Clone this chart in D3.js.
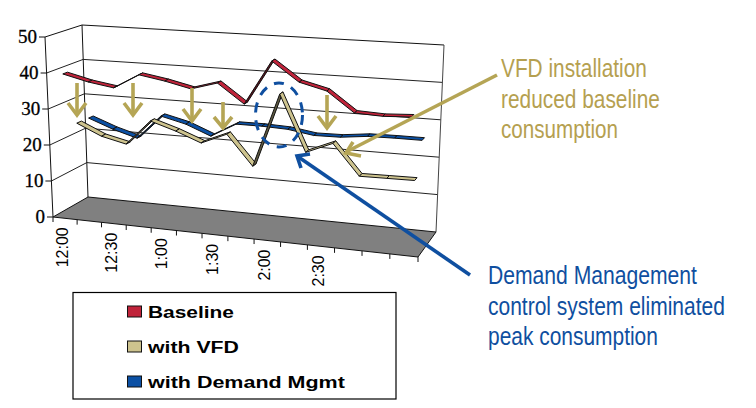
<!DOCTYPE html>
<html><head><meta charset="utf-8">
<script src="https://cdn.jsdelivr.net/npm/d3@7"></script>
<style>html,body{margin:0;padding:0;background:#fff}svg{display:block}</style>
</head><body><svg id="c" width="756" height="408"></svg>
<script>
const times = ["12:00","12:15","12:30","12:45","1:00","1:15","1:30","1:45","2:00","2:15","2:30","2:45","3:00","3:15"];
const shownTicks = ["12:00","12:30","1:00","1:30","2:00","2:30"];
const valueTicks = [0,10,20,30,40,50];
const baseline = [39.6,37.9,36.8,40.9,39.7,38.1,40.2,35.1,47.1,42.0,40.2,35.0,34.7,35.1];
const withVFD = [24.4,21.3,19.7,26.7,24.5,21.8,24.8,16.7,36.8,21.7,24.7,16.6,16.7,16.8];
const withDemand = [24.3,21.7,19.7,26.5,24.8,22.0,25.9,25.9,25.6,24.5,24.6,25.4,25.5,25.5];
const seriesNames = ["Baseline","with VFD","with Demand Mgmt"];
const seriesValues = [baseline, withVFD, withDemand];
const seriesColors = ["#c0233a","#cdc38e","#0b50a4"];
const noteVFD = ["VFD installation","reduced baseline","consumption"];
const noteDemand = ["Demand Management","control system eliminated","peak consumption"];

const tan = "#b5a555", blue = "#0f4fa0";
const svg = d3.select("#c");

// box corners (f/b = front/back, l/r = left/right, 0/1 = floor/top)
const box = {fl0:[53,217],fr0:[418,257],bl0:[88,197],br0:[436,232],
             fl1:[45,37], fr1:[427,62], bl1:[82,25], br1:[444,45]};
const mix=(a,b,t)=>[a[0]+(b[0]-a[0])*t,a[1]+(b[1]-a[1])*t];
const x = d3.scaleBand().domain(times).range([0,1]);
const y = d3.scaleLinear().domain([0,50]).range([0,1]);
const depth = d3.scalePoint().domain(seriesNames).range([0,1]).padding(.5);
const K = 1.087;
const warp = u => u/(u+K*(1-u));
function project(u,v,w){
  const t=warp(u);
  const b=mix(mix(box.fl0,box.fr0,t),mix(box.bl0,box.br0,t),w);
  const a=mix(mix(box.fl1,box.fr1,t),mix(box.bl1,box.br1,t),w);
  return mix(b,a,y(v));
}
const line=d3.line();
const wall=svg.append("g").attr("fill","none").attr("stroke","#111").attr("stroke-width",1);

// floor
svg.append("path").attr("d",line([project(0,0,0),project(0,0,1),project(1,0,1),project(1,0,0)])+"Z")
  .attr("fill","#808080").attr("stroke","#111").attr("stroke-width",1);
// walls and gridlines
valueTicks.forEach(v=>{
  if(v>0) wall.append("path").attr("d",line([project(0,v,0),project(0,v,1),project(1,v,1)])).attr("stroke",v==50?"#111":"#222");
});
wall.append("path").attr("d",line([project(0,0,0),project(0,50,0)]));
wall.append("path").attr("d",line([project(0,0,1),project(0,50,1)]));
wall.append("path").attr("d",line([project(1,0,1),project(1,50,1)])).attr("stroke","#444");

// value axis
const ax=svg.append("g");
valueTicks.forEach(v=>{
  const p=project(0,v,0);
  ax.append("line").attr("x1",p[0]-6).attr("x2",p[0]).attr("y1",p[1]).attr("y2",p[1]).attr("stroke","#111");
  ax.append("text").attr("x",p[0]-8).attr("y",p[1]+6).attr("text-anchor","end")
    .attr("font-family","Liberation Serif").attr("font-size",19).attr("fill","#000")
    .attr("stroke","#000").attr("stroke-width",.3).text(v);
});
// category axis
d3.range(times.length+1).forEach(i=>{
  const p=project(i/times.length,0,0);
  ax.append("line").attr("x1",p[0]).attr("x2",p[0]).attr("y1",p[1]).attr("y2",p[1]+5).attr("stroke","#111");
});
shownTicks.forEach(s=>{
  const p=project(x(s)+x.bandwidth()/2,0,0);
  ax.append("text").attr("transform",`translate(${p[0]-2.5},${p[1]+9}) rotate(-90)`).attr("dy",".35em")
    .attr("text-anchor","end").attr("font-family","Liberation Sans").attr("font-size",16).attr("fill","#000").text(s);
});

// ribbons, back series first
const half=.065;
d3.range(seriesNames.length).reverse().forEach(si=>{
  const vals=seriesValues[si], w=depth(seriesNames[si]), col=seriesColors[si];
  const g=svg.append("g").attr("stroke","#111").attr("stroke-width",1).attr("stroke-linejoin","round");
  d3.pairs(vals.map((v,i)=>({u:x(times[i])+x.bandwidth()/2,v}))).forEach(([a,b])=>{
    const p0=project(a.u,a.v,w-half),p1=project(b.u,b.v,w-half),p2=project(b.u,b.v,w+half),p3=project(a.u,a.v,w+half);
    const cross=(p1[0]-p0[0])*(p3[1]-p0[1])-(p1[1]-p0[1])*(p3[0]-p0[0]);
    g.append("path").attr("d",line([p0,p1,p2,p3])+"Z").attr("fill",cross>0?d3.color(col).darker(2.2):col);
  });
});

// annotations
const verticalArrows=[[77,83,115,103,9],[133,83,115,103,9],[192,88,121,109,9],[223,102,128,117,9],[327,95,128,116,9]];
const ann=svg.append("g").attr("fill","none").attr("stroke-width",3.6);
verticalArrows.forEach(([ax_,top,tip,bar,r])=>{
  ann.append("path").attr("stroke",tan).attr("d",line([[ax_,top],[ax_,tip]]));
  ann.append("path").attr("stroke",tan).attr("d",line([[ax_-r,bar],[ax_,tip],[ax_+r,bar]]));
});
ann.append("path").attr("stroke",tan).attr("d",line([[497,75],[346,152]]));
ann.append("path").attr("stroke",tan).attr("d",line([[353,142],[346,153],[361,156]]));
ann.append("path").attr("stroke",blue).attr("d",line([[470,275],[297,156]]));
ann.append("path").attr("stroke",blue).attr("d",line([[310,154],[297,156],[301,168]]));
ann.append("ellipse").attr("cx",279).attr("cy",115).attr("rx",23.5).attr("ry",32)
  .attr("stroke",blue).attr("stroke-width",3).attr("stroke-dasharray","10 8");

// text fitted to a target width by scaling horizontally
function fitted(str,x0,y0,width,size,color,weight){
  const t=svg.append("text").text(str).attr("font-family","Liberation Sans")
    .attr("font-size",size).attr("font-weight",weight).attr("fill",color);
  const natural=t.node().getComputedTextLength();
  t.attr("transform",`translate(${x0},${y0}) scale(${width/natural},1)`);
}
const vfdY=[77,108,138], vfdW=[146,159,117];
noteVFD.forEach((l,i)=>fitted(l,501,vfdY[i],vfdW[i],25,"#b5a050","normal"));
const demY=[284,315,345], demW=[209,237,170];
noteDemand.forEach((l,i)=>fitted(l,488,demY[i],demW[i],25,blue,"normal"));

// legend
svg.append("rect").attr("x",73).attr("y",292.5).attr("width",323).attr("height",106.5).attr("fill","#fff").attr("stroke","#000").attr("stroke-width",1.2);
const legY=[318,353,388], legW=[86,91,197];
seriesNames.forEach((n,i)=>{
  svg.append("rect").attr("x",127.5).attr("y",legY[i]-12).attr("width",14).attr("height",11).attr("fill",seriesColors[i]).attr("stroke","#111");
  fitted(n,148,legY[i],legW[i],17,"#000","bold");
});
</script></body></html>
